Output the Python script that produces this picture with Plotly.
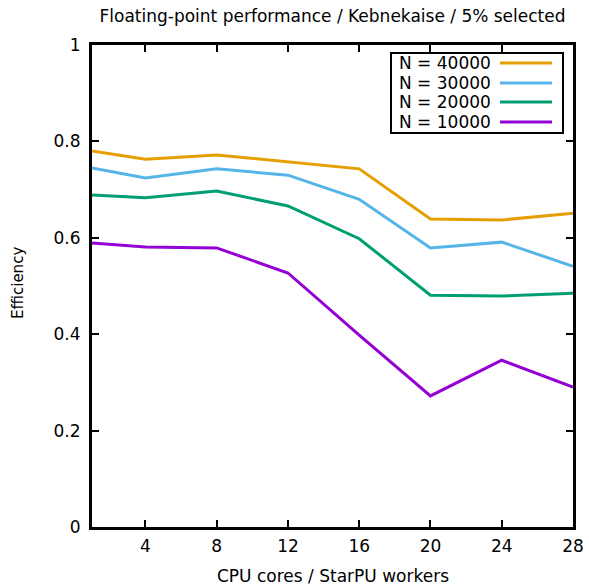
import plotly.graph_objects as go

# CPU cores / StarPU workers
workers = [1, 4, 8, 12, 16, 20, 24, 28]

# Efficiency per problem size
eff_40000 = [0.780, 0.763, 0.772, 0.757, 0.743, 0.639, 0.637, 0.651]
eff_30000 = [0.745, 0.724, 0.743, 0.730, 0.680, 0.579, 0.591, 0.541]
eff_20000 = [0.689, 0.683, 0.697, 0.666, 0.598, 0.481, 0.479, 0.485]
eff_10000 = [0.589, 0.581, 0.579, 0.527, 0.398, 0.272, 0.346, 0.290]

series_names = ["N = 40000", "N = 30000", "N = 20000", "N = 10000"]
series_values = [eff_40000, eff_30000, eff_20000, eff_10000]
series_colors = ["#e69f00", "#56b4e9", "#009e73", "#9400d3"]

x_ticks = [4, 8, 12, 16, 20, 24, 28]
y_ticks = [0, 0.2, 0.4, 0.6, 0.8, 1]
y_tick_labels = ["0", "0.2", "0.4", "0.6", "0.8", "1"]

FONT = "DejaVu Sans"
FS = 17

fig = go.Figure()
for name, vals, col in zip(series_names, series_values, series_colors):
    fig.add_trace(go.Scatter(x=workers, y=vals, mode="lines", name=name,
                             line=dict(color=col, width=3), showlegend=False))

# Plot frame in pixels
L, R, T, B = 92, 573, 45, 527
W, H = R - L, B - T


def px(xp):
    return (xp - L) / W


def py(yp):
    return (B - yp) / H


# Boxed key in the upper right: label on the left, line sample on the right
shapes = [dict(type="rect", xref="paper", yref="paper",
               x0=px(391), x1=px(563), y0=py(133), y1=py(53),
               line=dict(color="black", width=2), fillcolor="white", layer="above")]
annotations = []
rows = [63, 83, 102, 122]
for name, col, ry in zip(series_names, series_colors, rows):
    annotations.append(dict(x=px(397), y=py(ry), xref="paper", yref="paper",
                            text=name, showarrow=False, xanchor="left", yanchor="middle",
                            font=dict(family=FONT, size=FS, color="black")))
    shapes.append(dict(type="line", xref="paper", yref="paper",
                       x0=px(500), x1=px(552), y0=py(ry), y1=py(ry),
                       line=dict(color=col, width=3), layer="above"))

# Axis titles
annotations.append(dict(x=0.5, y=py(576), xref="paper", yref="paper",
                        text="CPU cores / StarPU workers", showarrow=False,
                        xanchor="center", yanchor="middle",
                        font=dict(family=FONT, size=FS, color="black")))
annotations.append(dict(x=px(18), y=py(283), xref="paper", yref="paper",
                        text="Efficiency", showarrow=False, textangle=-90,
                        xanchor="center", yanchor="middle",
                        font=dict(family=FONT, size=15, color="black")))

fig.update_layout(
    template="none",
    width=589, height=585,
    margin=dict(l=L, r=589 - R, t=T, b=585 - B, pad=0),
    paper_bgcolor="white", plot_bgcolor="white",
    font=dict(family=FONT, size=FS, color="black"),
    title=dict(text="Floating-point performance / Kebnekaise / 5% selected",
               x=(L + R) / 2 / 589, xanchor="center", y=1 - 16 / 585, yanchor="middle",
               font=dict(family=FONT, size=FS)),
    shapes=shapes, annotations=annotations,
    showlegend=False,
)
fig.update_xaxes(range=[1, 28], tickvals=x_ticks, ticks="inside", ticklen=7, tickwidth=2,
                 tickcolor="black", showline=True, linecolor="black", linewidth=3,
                 mirror="ticks", showgrid=False, zeroline=False, automargin=False,
                 ticklabelstandoff=2, tickfont=dict(family=FONT, size=FS))
fig.update_yaxes(range=[0, 1], tickvals=y_ticks, ticktext=y_tick_labels, ticks="inside",
                 ticklen=7, tickwidth=2, tickcolor="black", showline=True, linecolor="black",
                 linewidth=3, mirror="ticks", showgrid=False, zeroline=False, automargin=False,
                 ticklabelstandoff=5, tickfont=dict(family=FONT, size=FS))

fig.write_html("out.html")
